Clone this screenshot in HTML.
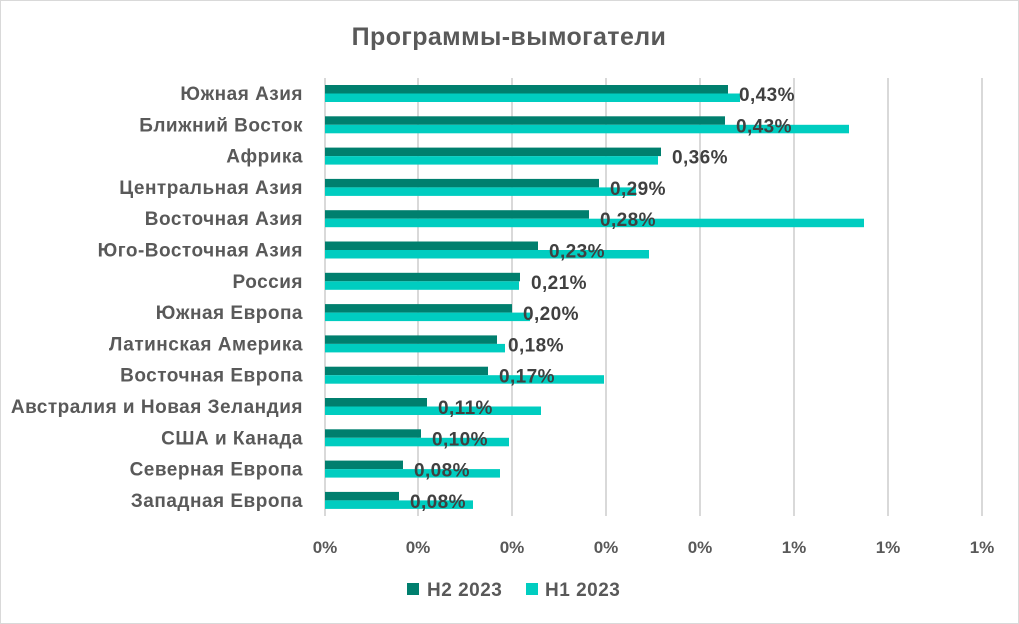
<!DOCTYPE html><html><head><meta charset="utf-8"><style>body{margin:0;background:#fff}svg{display:block}text{font-family:"Liberation Sans",sans-serif;font-weight:bold}</style></head><body>
<svg width="1019" height="624" xmlns="http://www.w3.org/2000/svg">
<rect x="0.5" y="0.5" width="1018" height="623" fill="#fff" stroke="#d9d9d9"/>
<text x="509" y="45" text-anchor="middle" font-size="25" letter-spacing="0.4" fill="#595959">Программы-вымогатели</text>
<g stroke="#d9d9d9" stroke-width="2">
<line x1="325" y1="78" x2="325" y2="516"/><line x1="418" y1="78" x2="418" y2="516"/><line x1="512" y1="78" x2="512" y2="516"/><line x1="606" y1="78" x2="606" y2="516"/><line x1="700" y1="78" x2="700" y2="516"/><line x1="794" y1="78" x2="794" y2="516"/><line x1="888" y1="78" x2="888" y2="516"/><line x1="982" y1="78" x2="982" y2="516"/>
</g>
<g font-size="17" fill="#595959" text-anchor="middle">
<text x="325" y="553">0%</text><text x="418" y="553">0%</text><text x="512" y="553">0%</text><text x="606" y="553">0%</text><text x="700" y="553">0%</text><text x="794" y="553">1%</text><text x="888" y="553">1%</text><text x="982" y="553">1%</text>
</g>
<g id="bars"></g>
<g font-size="19" letter-spacing="0.5" fill="#595959" text-anchor="end" id="cats"></g>
<g font-size="19" letter-spacing="0.4" fill="#404040" id="labs"></g>
<rect x="407" y="583" width="12" height="12" fill="#007f6e"/><text x="427" y="596" font-size="19" letter-spacing="0.5" fill="#595959">H2 2023</text>
<rect x="526" y="583" width="12" height="12" fill="#00cdc0"/><text x="545" y="596" font-size="19" letter-spacing="0.5" fill="#595959">H1 2023</text>
<script>
var d=[["Южная Азия",728,740,"0,43%"],["Ближний Восток",725,849,"0,43%"],["Африка",661,658,"0,36%"],["Центральная Азия",599,636,"0,29%"],["Восточная Азия",589,864,"0,28%"],["Юго-Восточная Азия",538,649,"0,23%"],["Россия",520,519,"0,21%"],["Южная Европа",512,530,"0,20%"],["Латинская Америка",497,505,"0,18%"],["Восточная Европа",488,604,"0,17%"],["Австралия и Новая Зеландия",427,541,"0,11%"],["США и Канада",421,509,"0,10%"],["Северная Европа",403,500,"0,08%"],["Западная Европа",399,473,"0,08%"]];
var ns="http://www.w3.org/2000/svg",b=document.getElementById("bars"),c=document.getElementById("cats"),l=document.getElementById("labs");
function el(p,t,a,s){var e=document.createElementNS(ns,t);for(var k in a)e.setAttribute(k,a[k]);if(s)e.textContent=s;p.appendChild(e);}
d.forEach(function(r,i){var y=85+i*31.3;
el(b,"rect",{x:325,y:y,width:r[1]-325,height:8.5,fill:"#007f6e"});
el(b,"rect",{x:325,y:y+8.5,width:r[2]-325,height:8.5,fill:"#00cdc0"});
el(c,"text",{x:303,y:y+15},r[0]);
el(l,"text",{x:r[1]+11,y:y+16},r[3]);});
</script>
</svg></body></html>
